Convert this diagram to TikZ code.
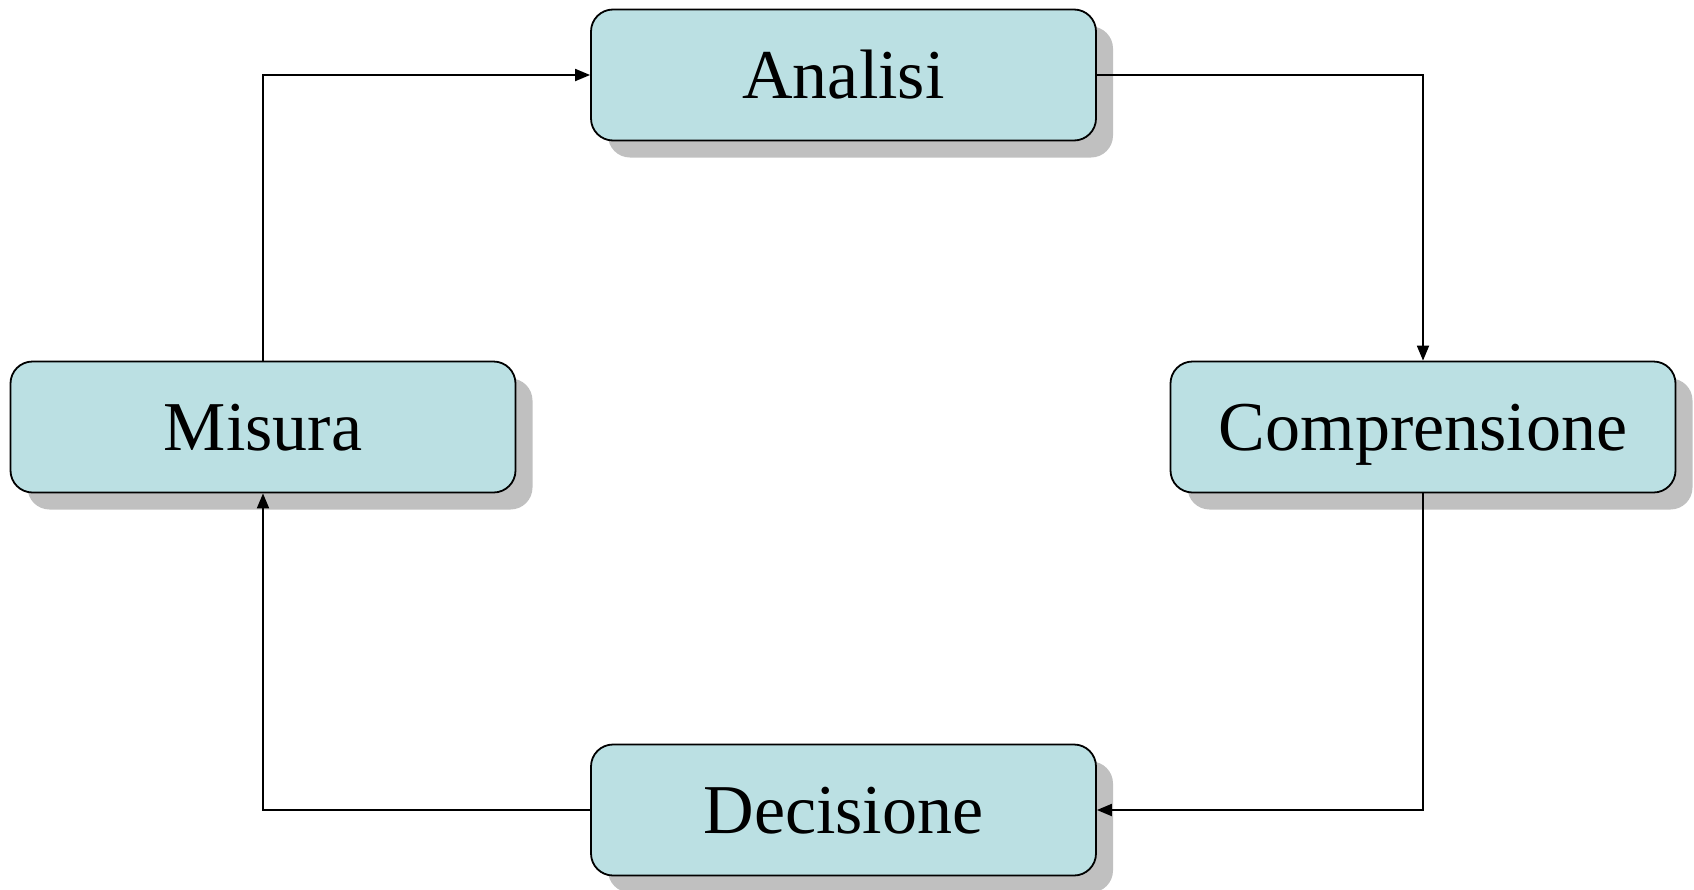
\documentclass[tikz,border=0pt]{standalone}
\usepackage{fontspec}
\setmainfont{Liberation Serif}
\usetikzlibrary{shadows,arrows.meta}
\definecolor{boxfill}{RGB}{187,224,227}
\definecolor{shadowgray}{RGB}{192,192,192}
\tikzset{
  stagebox/.style={draw=black, line width=1.8pt, fill=boxfill, rounded corners=22pt,
    minimum width=505pt, minimum height=131pt, inner sep=0pt,
    text height=46pt, text depth=0pt,
    font=\fontsize{70}{80}\selectfont,
    drop shadow={shadow xshift=17pt, shadow yshift=-17pt, fill=shadowgray, opacity=1}},
  flow/.style={line width=1.9pt, -{Triangle[length=15pt,width=12pt]}}
}
\begin{document}
\begin{tikzpicture}[x=1pt,y=-1pt]
\useasboundingbox (0,0) rectangle (1694,889);
\node[stagebox] (analisi) at (843.5,75) {Analisi};
\node[stagebox] (misura) at (263,427) {Misura};
\node[stagebox] (compr) at (1423,427) {Comprensione};
\node[stagebox] (decis) at (843.5,810) {Decisione};
\draw[flow] (misura.north) |- (analisi.west);
\draw[flow] (analisi.east) -| (compr.north);
\draw[flow] (compr.south) |- (decis.east);
\draw[flow] (decis.west) -| (misura.south);
\end{tikzpicture}
\end{document}
